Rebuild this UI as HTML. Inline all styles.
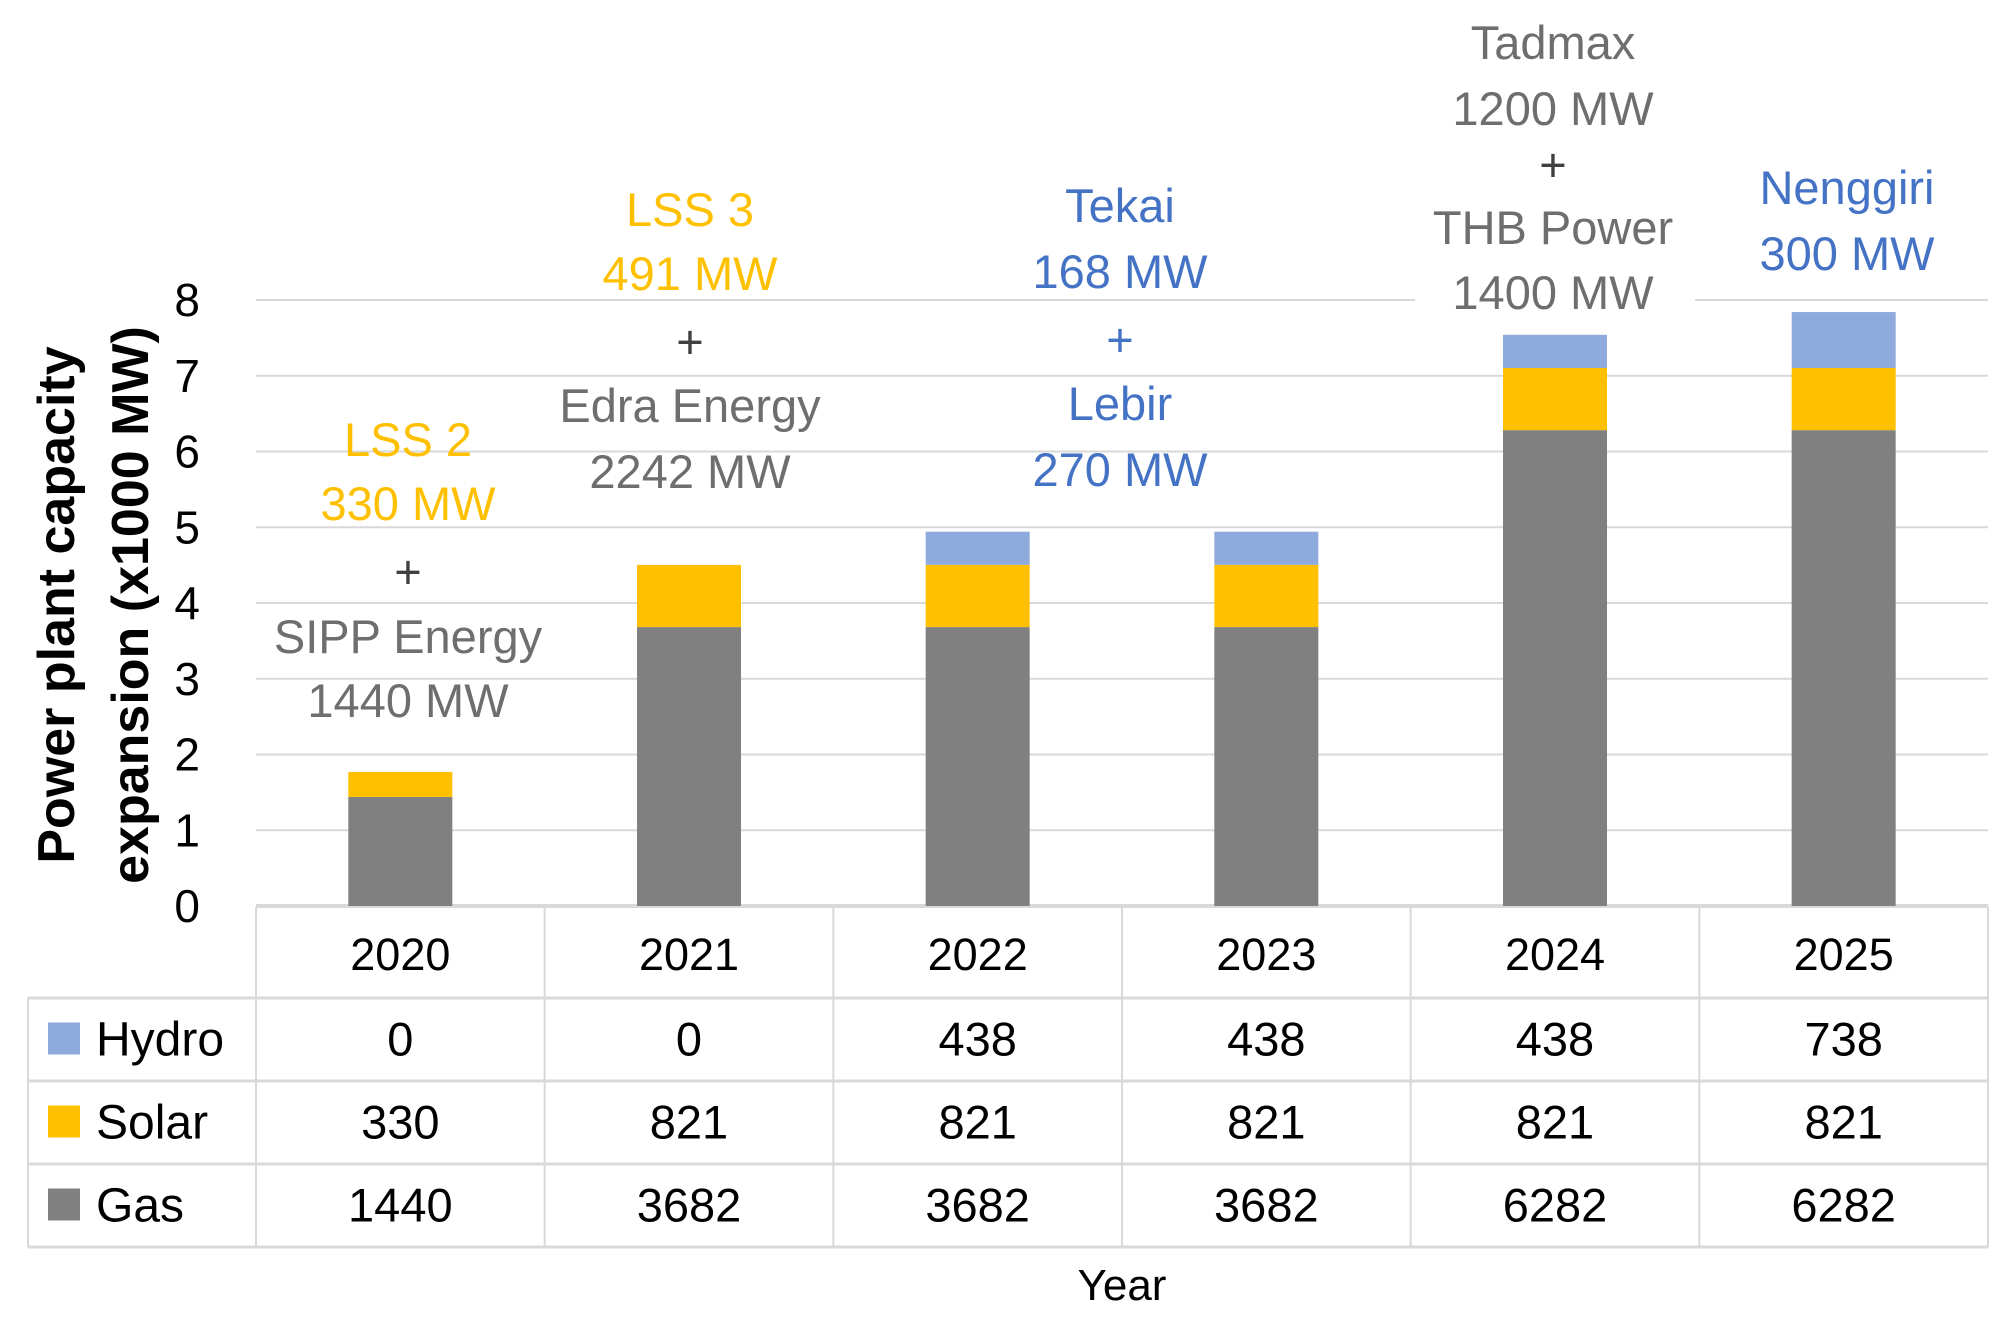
<!DOCTYPE html>
<html><head><meta charset="utf-8"><style>
html,body{margin:0;padding:0;background:#fff;}
svg{display:block;font-family:"Liberation Sans",sans-serif;}
</style></head><body>
<svg id="chart" width="2011" height="1327" viewBox="0 0 2011 1327" xmlns="http://www.w3.org/2000/svg">
<g id="grid"></g>
<g id="bars"></g>
<g id="yticks"></g>
<g id="table"></g>
<g id="notes"></g>
<text transform="translate(74,605) rotate(-90)" text-anchor="middle" font-size="52" font-weight="bold" fill="#000">Power plant capacity</text>
<text transform="translate(148,605) rotate(-90)" text-anchor="middle" font-size="52" font-weight="bold" fill="#000">expansion (x1000 MW)</text>
<text x="1122" y="1300" text-anchor="middle" font-size="44" fill="#000">Year</text>
</svg>
<script>
const categories = ["2020","2021","2022","2023","2024","2025"];
const hydro = [0,0,438,438,438,738];
const solar = [330,821,821,821,821,821];
const gas = [1440,3682,3682,3682,6282,6282];
const yTicks = [0,1,2,3,4,5,6,7,8];
const seriesNames = ["Hydro","Solar","Gas"];

const NS="http://www.w3.org/2000/svg";
const L=256,R=1988,Y0=906,Y8=300;
const colW=(R-L)/categories.length;
function y(v){return Y0-(v/8000)*(Y0-Y8);}
function xc(i){return L+colW*(i+0.5);}
function mk(tag,attrs,parent){const e=document.createElementNS(NS,tag);for(const k in attrs)e.setAttribute(k,attrs[k]);parent.appendChild(e);return e;}
const grid=document.getElementById('grid'),bars=document.getElementById('bars'),yt=document.getElementById('yticks'),tb=document.getElementById('table'),notes=document.getElementById('notes');
yTicks.forEach(t=>{
  const ln=mk('line',{x1:L,x2:R,y1:y(t*1000),y2:y(t*1000),stroke:'#d9d9d9','stroke-width':t===0?4:2},grid);
  
  
  const tx=mk('text',{x:200,y:y(t*1000)+16,'text-anchor':'end','font-size':46,fill:'#000'},yt);
  tx.textContent=t;
  
  
});
const colors={Hydro:'#8faadc',Solar:'#ffc000',Gas:'#808080'};
const bw=104;
categories.forEach((c,i)=>{
  let base=0;
  [['Gas',gas[i]],['Solar',solar[i]],['Hydro',hydro[i]]].forEach(([n,v])=>{
    if(v<=0)return;
    const r=mk('rect',{x:xc(i)-bw/2,y:y(base+v),width:bw,height:y(base)-y(base+v),fill:colors[n]},bars);
    
    
    base+=v;
  });
});
const rowY=[907,998,1081,1164,1247];
const lineC='#d9d9d9';
[998,1081,1164,1247].forEach(yy=>{mk('line',{x1:28,x2:R,y1:yy,y2:yy,stroke:lineC,'stroke-width':3},tb);});
mk('line',{x1:28,x2:28,y1:998,y2:1247,stroke:lineC,'stroke-width':2},tb);
for(let i=0;i<=categories.length;i++){mk('line',{x1:L+colW*i,x2:L+colW*i,y1:907,y2:1247,stroke:lineC,'stroke-width':2},tb);}
categories.forEach((c,i)=>{
  const t=mk('text',{x:xc(i),y:970,'text-anchor':'middle','font-size':45,fill:'#000'},tb);
  t.textContent=c;
  
  
});
const rows=[hydro,solar,gas];
seriesNames.forEach((n,r)=>{
  const cy=(rowY[r+1]+rowY[r+2])/2;
  const sw=mk('rect',{x:48,y:cy-17,width:32,height:32,fill:colors[n]},tb);
  
  
  const lt=mk('text',{x:96,y:cy+16,'font-size':48,fill:'#000'},tb);
  lt.textContent=n;
  
  
  rows[r].forEach((v,i)=>{
    const t=mk('text',{x:xc(i),y:cy+16,'text-anchor':'middle','font-size':47,fill:'#000'},tb);
    t.textContent=v;
    
    
  });
});
const O='#ffc000',G='#6e6e6e',D='#404040',B='#4472c4';
const anns=[
 [408,[["LSS 2",439,O],["330 MW",503,O],["+",571,D],["SIPP Energy",636,G],["1440 MW",700,G]]],
 [690,[["LSS 3",209,O],["491 MW",273,O],["+",341,D],["Edra Energy",405,G],["2242 MW",471,G]]],
 [1120,[["Tekai",205,B],["168 MW",271,B],["+",339,B],["Lebir",403,B],["270 MW",469,B]]],
 [1553,[["Tadmax",42,G],["1200 MW",108,G],["+",164,D],["THB Power",227,G],["1400 MW",292,G]]],
 [1847,[["Nenggiri",187,B],["300 MW",253,B]]]
];
anns.forEach(([x,lines],k)=>{
  if(k===3){mk('rect',{x:1415,y:270,width:280,height:40,fill:'#fff'},notes);}
  lines.forEach(([s,yy,col],j)=>{
    const t=mk('text',{x:x,y:yy+17,'text-anchor':'middle','font-size':47,fill:col},notes);
    t.textContent=s;
    
    
  });
});
</script>
</body></html>
